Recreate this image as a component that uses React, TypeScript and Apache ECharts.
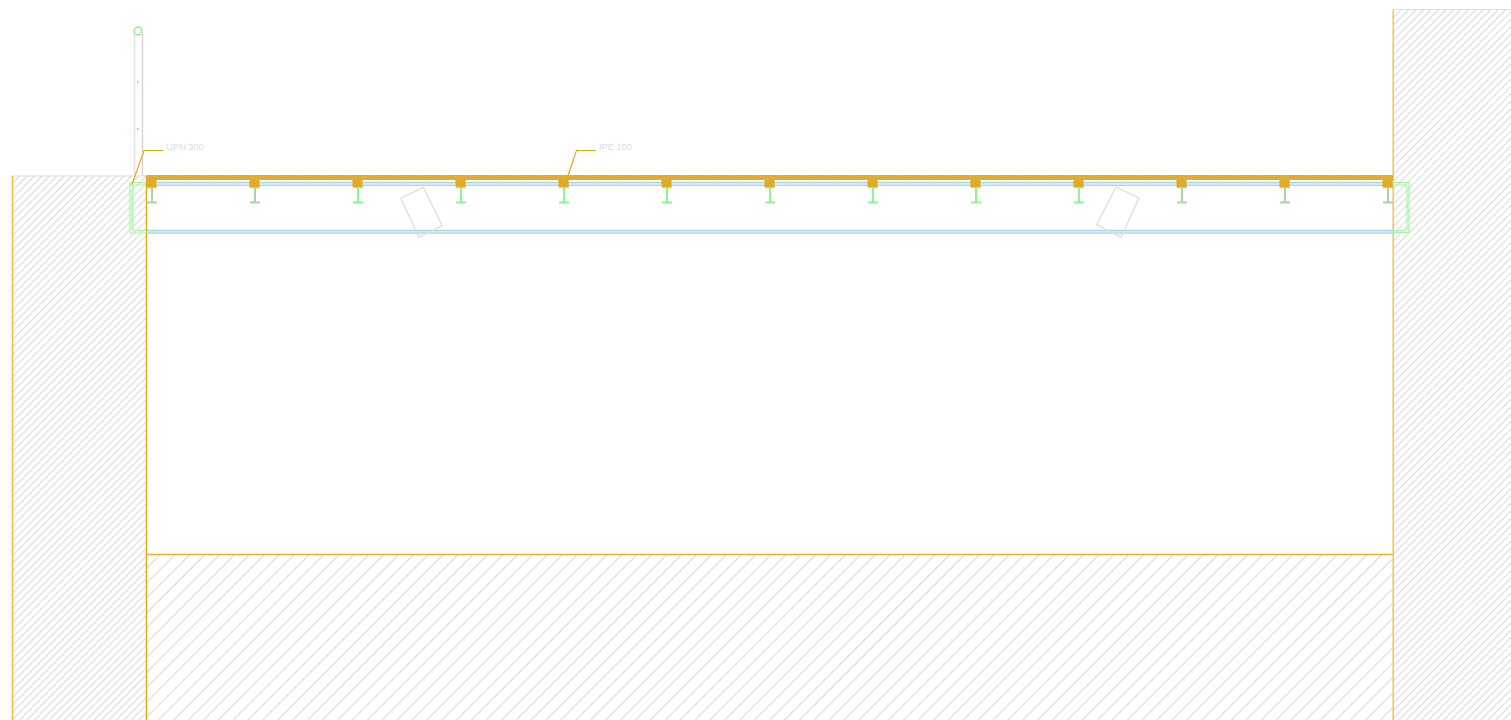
import React, { useEffect, useRef } from "react";
import * as echarts from "echarts";

const WIDTH = 1511;
const HEIGHT = 720;

// Joist axis positions along the deck
const joistCentres = [151.5, 254.5, 357.5, 460.5, 563.5, 666.5, 769.5, 872.5, 975.5, 1078.5, 1181.5, 1284.5, 1387.5];
const joistColours = ["#a9d3a9", "#a9d3a9", "#8ff58f", "#8ff58f", "#8ff58f", "#8ff58f", "#8ff58f", "#8ff58f", "#8ff58f", "#8ff58f", "#a0dca0", "#a9d3a9", "#a9d3a9"];

// Hatched zones: x0, y0, x1, y1, spacing, phase
const wallHatch = [
  [12, 176, 146, 720, 7.45, 2],
  [146, 555, 1393, 720, 14.9, 14.5],
  [1393, 10, 1511, 720, 7.45, 3],
];
const deckRect = [146, 175, 1393, 180];

const outlines: { pts: number[][]; color: string; w: number }[] = [
  { pts: [[12, 176], [146, 176]], color: "#dedede", w: 1.2 },
  { pts: [[1393, 9.5], [1511, 9.5]], color: "#dedede", w: 1.2 },
  { pts: [[134.5, 34], [134.5, 176]], color: "#e2e2e2", w: 1.5 },
  { pts: [[142.5, 34], [142.5, 176]], color: "#d2d2d2", w: 1.3 },
  { pts: [[12.5, 176], [12.5, 720]], color: "#edbb3c", w: 1.5 },
  { pts: [[146.5, 176], [146.5, 720]], color: "#e5a90f", w: 1.4 },
  { pts: [[146.5, 554.5], [1393, 554.5]], color: "#eab02a", w: 1.4 },
  { pts: [[1393.2, 10], [1393.2, 720]], color: "#f0cd72", w: 1.8 },
];

// Blue slab edges: from, to, level
const blueRuns = [
  [156.5, 1383, 182.6],
  [156.5, 1383, 185.2],
  [146.5, 1393, 230.6],
  [146.5, 1393, 233],
];

// Green U-profile outlines
const greenLines: number[][][] = [
  [[146, 182.5], [130, 182.5], [130, 233], [146, 233]],
  [[146, 185], [134, 185], [132.5, 186.5], [132.5, 229], [134, 230.5], [146, 230.5]],
  [[1393, 182.5], [1409, 182.5], [1409, 232.5], [1393, 232.5]],
  [[1393, 185], [1405, 185], [1407, 187], [1407, 228.5], [1405, 230.5], [1393, 230.5]],
];

const tiltedBoxes: number[][][] = [
  [[400.7, 198.3], [423.3, 187.3], [442.3, 225.7], [419, 237.3], [400.7, 198.3]],
  [[1116, 187], [1139, 198], [1121, 237.3], [1096.7, 224.7], [1116, 187]],
];

const leaderLines: number[][][] = [
  [[131.8, 185], [144, 150.5], [163.5, 150.5]],
  [[566.5, 180], [576.5, 150.5], [596, 150.5]],
];
const leaderLabels: { text: string; at: number[] }[] = [
  { text: "UPN 300", at: [166, 147] },
  { text: "IPE 100", at: [599, 147] },
];

const poleTop = [138, 31];
const poleDots = [[138, 82], [138, 129]];

type Mk = (c: (p: number[]) => number[]) => any;

function line(pts: number[][], stroke: string, lineWidth: number): Mk {
  return (c) => ({
    type: "polyline",
    shape: { points: pts.map(c) },
    style: { stroke, lineWidth, fill: "none" },
    silent: true,
  });
}

function hatchLines(z: number[], stroke: string, lineWidth: number): Mk {
  const [x0, y0, x1, y1, sp, ph] = z;
  return (c) => {
    const children: any[] = [];
    const first = Math.ceil((x0 + y0 - ph) / sp);
    const last = Math.floor((x1 + y1 - ph) / sp);
    for (let k = first; k <= last; k++) {
      const s = ph + k * sp;
      const ax = Math.max(x0, s - y1);
      const bx = Math.min(x1, s - y0);
      if (bx <= ax) continue;
      const a = c([ax, s - ax]);
      const b = c([bx, s - bx]);
      children.push({
        type: "line",
        shape: { x1: a[0], y1: a[1], x2: b[0], y2: b[1] },
        style: { stroke, lineWidth },
        silent: true,
      });
    }
    return { type: "group", children };
  };
}

function box(r: number[], fill: string): Mk {
  return (c) => {
    const a = c([r[0], r[1]]);
    const b = c([r[2], r[3]]);
    return {
      type: "rect",
      shape: { x: a[0], y: a[1], width: b[0] - a[0], height: b[1] - a[1] },
      style: { fill },
      silent: true,
    };
  };
}

function label(text: string, at: number[]): Mk {
  return (c) => {
    const p = c(at);
    return {
      type: "text",
      x: p[0],
      y: p[1],
      style: {
        text,
        fill: "#dcdcdc",
        font: '9.3px "Liberation Sans", Arial, sans-serif',
        textAlign: "left",
        textVerticalAlign: "middle",
      },
      silent: true,
    };
  };
}

function buildMarks(): Mk[] {
  const m: Mk[] = [];
  wallHatch.forEach((z) => m.push(hatchLines(z, "#dedede", 1.15)));
  outlines.forEach((o) => m.push(line(o.pts, o.color, o.w)));
  blueRuns.forEach(([a, b, y]) => m.push(line([[a, y], [b, y]], "#a8d8e8", 1.6)));
  greenLines.forEach((g) => m.push(line(g, "#a4f5a4", 1.2)));
  tiltedBoxes.forEach((t) => m.push(line(t, "#dddddd", 1.3)));
  joistCentres.forEach((x, i) => {
    const col = joistColours[i];
    m.push(line([[x + 0.5, 187], [x + 0.5, 202]], col, 2));
    m.push(line([[x - 4.5, 202.5], [x + 5.5, 202.5]], col, 2));
    m.push(line([[x - 4.5, 187.5], [x + 5.5, 187.5]], col, 1.6));
  });
  m.push(box(deckRect, "#e6b130"));
  m.push(hatchLines([...deckRect, 3, 0], "#d2a020", 0.7));
  joistCentres.forEach((x) => {
    const r = [x - 5, 180, x + 5, 187];
    m.push(box(r, "#e6b130"));
    m.push(hatchLines([...r, 2.4, 0], "#cf9c18", 0.7));
  });
  leaderLines.forEach((l) => m.push(line(l, "#e5a90f", 1.2)));
  leaderLabels.forEach((l) => m.push(label(l.text, l.at)));
  m.push((c) => {
    const p = c(poleTop);
    return {
      type: "circle",
      shape: { cx: p[0], cy: p[1], r: 4 },
      style: { fill: "#fff", stroke: "#86f586", lineWidth: 1.4 },
      silent: true,
    };
  });
  poleDots.forEach((d) =>
    m.push((c) => {
      const p = c(d);
      return { type: "circle", shape: { cx: p[0], cy: p[1], r: 1.2 }, style: { fill: "#90f590" }, silent: true };
    })
  );
  return m;
}

export default function App() {
  const ref = useRef<HTMLDivElement>(null);
  useEffect(() => {
    document.body.style.margin = "0";
    const chart = echarts.init(ref.current!, undefined, { renderer: "svg" });
    const marks = buildMarks();
    chart.setOption({
      animation: false,
      backgroundColor: "#ffffff",
      grid: { left: 0, right: 0, top: 0, bottom: 0 },
      xAxis: { type: "value", min: 0, max: WIDTH, show: false },
      yAxis: { type: "value", min: 0, max: HEIGHT, inverse: true, show: false },
      tooltip: { show: false },
      series: [
        {
          type: "custom",
          coordinateSystem: "cartesian2d",
          silent: true,
          clip: false,
          data: marks.map((_, i) => [i, 0]),
          encode: { x: 0, y: 1 },
          renderItem: (params: any, api: any) => marks[params.dataIndex]((p) => api.coord(p)),
        },
      ],
    });
    return () => chart.dispose();
  }, []);
  return <div ref={ref} style={{ width: WIDTH, height: HEIGHT }} />;
}
